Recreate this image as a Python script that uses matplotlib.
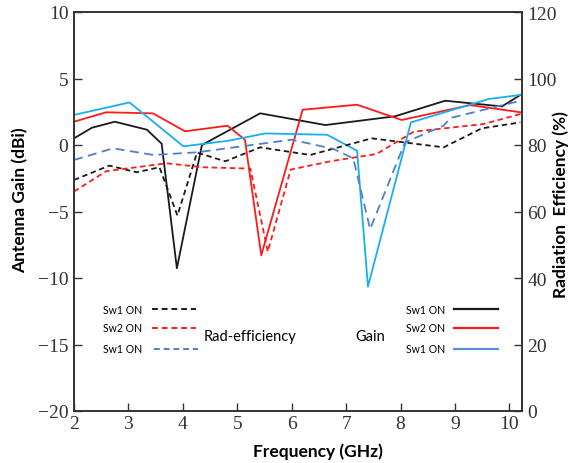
import matplotlib
matplotlib.use("Agg")
import matplotlib.pyplot as plt
from matplotlib.lines import Line2D

# ---- data ----
f_g1 = [2.0, 2.33, 2.75, 3.34, 3.61, 3.89, 4.35, 5.42, 6.62, 7.9, 8.82, 9.86, 10.2]
g1 = [0.5, 1.3, 1.75, 1.15, 0.1, -9.27, 0.0, 2.38, 1.5, 2.16, 3.33, 2.9, 3.76]

f_g2 = [2.0, 2.59, 3.45, 4.04, 4.82, 5.14, 5.44, 6.20, 7.20, 8.02, 9.28, 10.2]
g2 = [1.75, 2.46, 2.38, 1.03, 1.45, 0.4, -8.3, 2.65, 3.03, 1.88, 3.0, 2.46]

f_g3 = [2.0, 3.02, 4.01, 4.84, 5.51, 6.65, 7.20, 7.40, 8.19, 9.62, 10.2]
g3 = [2.26, 3.2, -0.1, 0.32, 0.87, 0.77, -0.43, -10.65, 1.7, 3.46, 3.76]

f_e1 = [2.0, 2.65, 3.15, 3.57, 3.90, 4.26, 4.78, 5.42, 6.34, 7.47, 8.79, 9.49, 10.2]
e1 = [69.5, 73.8, 71.8, 73.3, 58.8, 77.7, 75.1, 79.3, 77.0, 82.0, 79.3, 85.0, 86.8]

f_e2 = [2.0, 2.59, 3.70, 4.38, 5.24, 5.56, 5.98, 6.71, 7.56, 8.24, 9.52, 10.2]
e2 = [66.0, 72.1, 74.5, 73.3, 72.9, 47.9, 72.6, 75.1, 77.3, 84.0, 86.3, 89.3]

f_e3 = [2.0, 2.72, 3.46, 4.26, 6.00, 6.77, 7.13, 7.44, 8.08, 8.79, 8.91, 10.2]
e3 = [75.5, 79.0, 77.0, 77.8, 81.6, 78.8, 76.0, 54.7, 80.8, 85.8, 88.1, 93.3]

x_ticks = [2, 3, 4, 5, 6, 7, 8, 9, 10]
gain_ticks = [-20, -15, -10, -5, 0, 5, 10]
eff_ticks = [0, 20, 40, 60, 80, 100, 120]

legend_labels = ["Sw1 ON", "Sw2 ON", "Sw1 ON"]

# ---- style ----
c_black = "#1a1a1a"
c_red = "#ff1a1a"
c_cyan = "#18aef0"
c_blue = "#4f7fcc"

W, H = 579, 464
fig = plt.figure(figsize=(W / 100, H / 100), dpi=100)
ax = fig.add_axes([74 / W, 1 - 412 / H, 448 / W, 399 / H])
ax2 = ax.twinx()

lw = 1.3
ax.plot(f_g1, g1, color=c_black, lw=lw)
ax.plot(f_g2, g2, color=c_red, lw=lw)
ax.plot(f_g3, g3, color=c_cyan, lw=lw)
ax2.plot(f_e1, e1, color=c_black, lw=lw, ls=(0, (3, 2)))
ax2.plot(f_e2, e2, color=c_red, lw=lw, ls=(0, (3, 2)))
ax2.plot(f_e3, e3, color=c_blue, lw=lw, ls=(0, (5, 3)))

ax.set_xlim(2, 10.23)
ax.set_ylim(-20, 10)
ax2.set_ylim(0, 120)
ax.set_xticks(x_ticks)
ax.set_yticks(gain_ticks)
ax2.set_yticks(eff_ticks)

tick_font = dict(family="Liberation Serif", size=14)
ax.set_xticklabels([str(t) for t in x_ticks], fontdict=tick_font)
ax.set_yticklabels([("\u2212" + str(-t)) if t < 0 else str(t) for t in gain_ticks], fontdict=tick_font)
ax2.set_yticklabels([str(t) for t in eff_ticks], fontdict=tick_font)

ax.tick_params(axis="both", direction="in", length=6, width=1, colors="#333333", pad=4)
ax.tick_params(axis="x", pad=3)
ax2.tick_params(axis="y", direction="in", length=6, width=1, colors="#333333", pad=4)

for a in (ax, ax2):
    for s in a.spines.values():
        s.set_linewidth(1.2)
        s.set_color("#333333")

lab_font = dict(family="Lato", weight="bold", size=12.5)
fig.text(20 / W, 1 - 200 / H, "Antenna Gain (dBi)", rotation=90, ha="center", va="center", fontdict=lab_font)
fig.text(561 / W, 1 - 205 / H, "Radiation  Efficiency (%)", rotation=90, ha="center", va="center", fontdict=lab_font)
fig.text(318 / W, 1 - 452 / H, "Frequency (GHz)", ha="center", va="center", fontdict=lab_font)

# ---- legend blocks ----
small = dict(family="Lato", size=7.6)
rows_y = [310, 329, 350]
eff_cols = [c_black, c_red, c_blue]
gain_cols = [c_black, c_red, "#5a8fd6"]
for i, y in enumerate(rows_y):
    fy = 1 - y / H
    fig.text(103 / W, fy, legend_labels[i], ha="left", va="center", fontdict=small)
    x0 = 152 if i < 2 else 154
    fig.add_artist(Line2D([x0 / W, (x0 + 44) / W], [fy, fy], color=eff_cols[i], lw=1.4, ls=(0, (3, 2)),
                          transform=fig.transFigure))
    fig.text(406 / W, fy, legend_labels[i], ha="left", va="center", fontdict=small)
    fig.add_artist(Line2D([454 / W, 498 / W], [fy, fy], color=gain_cols[i], lw=1.6,
                          transform=fig.transFigure))

fig.text(204 / W, 1 - 337 / H, "Rad-efficiency", ha="left", va="center", fontdict=dict(family="Lato", size=10.5))
fig.text(355 / W, 1 - 337 / H, "Gain", ha="left", va="center", fontdict=dict(family="Lato", size=10.5))

fig.savefig("out.png", dpi=100)
